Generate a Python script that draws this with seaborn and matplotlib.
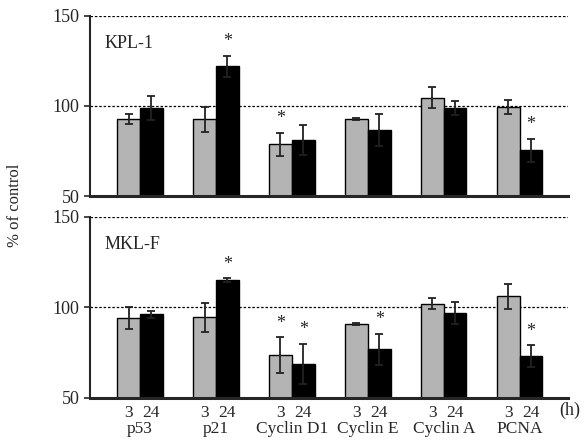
import matplotlib
matplotlib.use("Agg")
import matplotlib.pyplot as plt
import seaborn as sns
import pandas as pd

genes = ["p53", "p21", "Cyclin D1", "Cyclin E", "Cyclin A", "PCNA"]
times = ["3", "24"]

kpl_3h = [92.8, 92.6, 78.7, 92.8, 104.6, 99.3]
kpl_24h = [98.7, 122.0, 81.1, 86.7, 98.7, 75.4]
kpl_3h_err = [3.0, 7.0, 6.5, 0.5, 6.0, 4.0]
kpl_24h_err = [6.6, 6.0, 8.5, 9.0, 4.0, 6.5]
kpl_sig = [(1, "24"), (2, "3"), (5, "24")]

mkl_3h = [94.0, 94.6, 73.6, 90.7, 102.1, 106.0]
mkl_24h = [96.2, 115.0, 68.8, 76.9, 96.8, 73.2]
mkl_3h_err = [6.0, 8.0, 10.0, 0.5, 3.0, 7.0]
mkl_24h_err = [2.0, 1.0, 11.0, 8.6, 6.0, 6.0]
mkl_sig = [(1, "24"), (2, "3"), (2, "24"), (3, "24"), (5, "24")]

sns.set_style("ticks")
plt.rcParams["font.family"] = ["Liberation Serif", "DejaVu Serif"]

gray = "#b4b4b4"


def make_df(v3, v24):
    rows = []
    for g, a, b in zip(genes, v3, v24):
        rows.append({"gene": g, "time": "3", "value": a})
        rows.append({"gene": g, "time": "24", "value": b})
    return pd.DataFrame(rows)


def draw_panel(ax, v3, v24, e3, e24, sig, label, bottom=False):
    df = make_df(v3, v24)
    sns.barplot(data=df, x="gene", y="value", hue="time", hue_order=times,
                palette=[gray, "black"], width=0.6, edgecolor="black",
                linewidth=1, errorbar=None, legend=False, ax=ax)
    # patches come in hue order: all "3" bars, then all "24" bars
    bars = ax.patches[:2 * len(genes)]
    xs3 = [b.get_x() + b.get_width() / 2 for b in bars[:len(genes)]]
    xs24 = [b.get_x() + b.get_width() / 2 for b in bars[len(genes):]]
    ax.errorbar(xs3, v3, yerr=e3, fmt="none", ecolor="#222222",
                elinewidth=1.3, capsize=3, capthick=1.3)
    ax.errorbar(xs24, v24, yerr=e24, fmt="none", ecolor="#222222",
                elinewidth=1.3, capsize=3, capthick=1.3)
    for i, t in sig:
        if t == "3":
            x, top = xs3[i], v3[i] + e3[i]
        else:
            x, top = xs24[i], v24[i] + e24[i]
        ax.text(x, top + 3, "*", ha="center", va="bottom", fontsize=13)

    ax.set_ylim(50, 150)
    ax.set_xlim(-0.66, 5.64)
    ax.set_yticks([50, 100, 150])
    ax.tick_params(axis="y", labelsize=13, length=4, width=1.2)
    for yv in [100, 150] + ([50] if bottom else []):
        ax.axhline(yv, color="black", linestyle=(0, (2, 1.5)), linewidth=0.9, zorder=0)
    sns.despine(ax=ax)
    ax.spines["left"].set_linewidth(1.5)
    ax.spines["bottom"].set_linewidth(2.2)
    ax.set_xlabel("")
    ax.set_ylabel("")
    ax.text(0.03, 0.82, label, transform=ax.transAxes, fontsize=13, ha="left")

    if bottom:
        ax.set_xticks(xs3 + xs24, labels=["3"] * len(genes) + ["24"] * len(genes))
        ax.set_xticks(range(len(genes)), labels=genes, minor=True)
        ax.tick_params(axis="x", which="major", length=0, labelsize=12.5, pad=5)
        ax.tick_params(axis="x", which="minor", length=0, labelsize=12.5, pad=17)
    else:
        ax.set_xticks([])


fig = plt.figure(figsize=(5.84, 4.48), dpi=100)
ax1 = fig.add_axes([0.154, 0.5625, 0.819, 0.402])
ax2 = fig.add_axes([0.154, 0.112, 0.819, 0.404])

draw_panel(ax1, kpl_3h, kpl_24h, kpl_3h_err, kpl_24h_err, kpl_sig, "KPL-1")
draw_panel(ax2, mkl_3h, mkl_24h, mkl_3h_err, mkl_24h_err, mkl_sig, "MKL-F", bottom=True)

fig.text(15 / 584, 0.542, "% of control", rotation=90, ha="center", va="center", fontsize=12)
fig.text(570 / 584, 1 - 410 / 448, "(h)", ha="center", va="center", fontsize=13)

fig.savefig("out.png", dpi=100)
